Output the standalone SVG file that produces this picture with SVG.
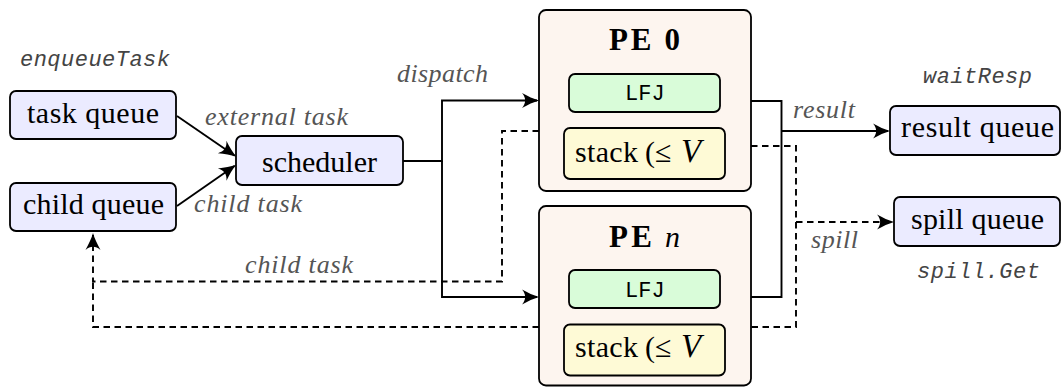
<svg xmlns="http://www.w3.org/2000/svg" width="1061" height="387" viewBox="0 0 1061 387">
  <style>
    .box { stroke: #000; stroke-width: 1.8; }
    .queue { fill: #ebebff; }
    .pe { fill: #fdf5ef; }
    .lfj { fill: #d9fcd9; }
    .stack { fill: #fefad6; }
    .txt { font-family: "Liberation Serif", "Times New Roman", serif; font-size: 30px; fill: #000; }
    .bold { font-weight: bold; font-size: 31px; }
    .it { font-style: italic; }
    .mono { font-family: "Liberation Mono", "Courier New", monospace; font-size: 22px; fill: #000; }
    .lbl { font-family: "Liberation Serif", "Times New Roman", serif; font-style: italic; font-size: 26px; fill: #555; }
    .api { font-family: "Liberation Mono", "Courier New", monospace; font-style: italic; font-size: 22px; fill: #444; }
    .wire { fill: none; stroke: #000; stroke-width: 1.9; }
    .dash { stroke-dasharray: 6.5 4.5; }
  </style>
  <defs>
    <!-- stealth-style arrow tip, drawn in user units -->
    <marker id="tip" markerUnits="userSpaceOnUse" viewBox="-18 -9 19 18" refX="-2" refY="0"
            markerWidth="19" markerHeight="18" orient="auto">
      <path d="M0,0 C-5.5,-1.6 -11,-4.2 -17,-7.5 C-12.8,-2.6 -12.8,2.6 -17,7.5 C-11,4.2 -5.5,1.6 0,0 Z" fill="#000"/>
    </marker>
  </defs>

  <!-- connectors -->
  <g id="connectors">
    <path class="wire" d="M177,116 L234.5,155.5" marker-end="url(#tip)"/>
    <path class="wire" d="M177,206 L234.5,166" marker-end="url(#tip)"/>
    <path class="wire" d="M403,161 H442 V100.5 H537" marker-end="url(#tip)"/>
    <path class="wire" d="M442,161 V297 H537" marker-end="url(#tip)"/>
    <path class="wire dash" d="M539,131 H502 V281.5 H93 V235" marker-end="url(#tip)"/>
    <path class="wire dash" d="M539,327 H93 V281.5"/>
    <path class="wire" d="M751,101 H781.5 V297 H751"/>
    <path class="wire" d="M781.5,131 H888" marker-end="url(#tip)"/>
    <path class="wire dash" d="M751,146 H796 V327 H751"/>
    <path class="wire dash" d="M796,222 H892" marker-end="url(#tip)"/>

    <text class="lbl" x="205" y="125" textLength="143">external task</text>
    <text class="lbl" x="194" y="212" textLength="108">child task</text>
    <text class="lbl" x="397" y="82" textLength="91">dispatch</text>
    <text class="lbl" x="245" y="273" textLength="108">child task</text>
    <text class="lbl" x="793" y="117.5" textLength="62">result</text>
    <text class="lbl" x="811" y="248" textLength="47">spill</text>
  </g>

  <!-- input queues -->
  <g id="task-queue">
    <text class="api" x="20" y="66" textLength="150">enqueueTask</text>
    <rect class="box queue" x="10" y="91" width="166" height="48" rx="6"/>
    <text class="txt" x="27" y="123" textLength="132">task queue</text>
  </g>
  <g id="child-queue">
    <rect class="box queue" x="10" y="183" width="166" height="48" rx="6"/>
    <text class="txt" x="23" y="214" textLength="141">child queue</text>
  </g>

  <g id="scheduler">
    <rect class="box queue" x="236" y="136" width="167" height="49" rx="6"/>
    <text class="txt" x="262" y="172" textLength="115">scheduler</text>
  </g>

  <!-- processing elements -->
  <g id="pe-0">
    <rect class="box pe" x="539" y="10" width="212" height="181" rx="7"/>
    <text class="txt bold" x="609" y="50" textLength="71">PE 0</text>
    <rect class="box lfj" x="569" y="74" width="151" height="38" rx="6"/>
    <text class="mono" x="625" y="100">LFJ</text>
    <rect class="box stack" x="564" y="128" width="161" height="51" rx="6"/>
    <text class="txt" y="162"><tspan x="575" textLength="63">stack</tspan><tspan x="645">(</tspan><tspan x="655">≤</tspan><tspan x="681" class="it" font-size="33">V</tspan></text>
  </g>
  <g id="pe-n">
    <rect class="box pe" x="539" y="206" width="212" height="179.5" rx="7"/>
    <text class="txt" y="247"><tspan x="609" class="bold" textLength="43">PE</tspan><tspan x="665" class="it">n</tspan></text>
    <rect class="box lfj" x="569" y="270" width="151" height="38" rx="6"/>
    <text class="mono" x="625" y="297">LFJ</text>
    <rect class="box stack" x="564" y="324.5" width="161" height="51" rx="6"/>
    <text class="txt" y="357"><tspan x="575" textLength="63">stack</tspan><tspan x="645">(</tspan><tspan x="655">≤</tspan><tspan x="681" class="it" font-size="33">V</tspan></text>
  </g>

  <!-- output queues -->
  <g id="result-queue">
    <text class="api" x="923" y="83" textLength="109">waitResp</text>
    <rect class="box queue" x="890" y="106" width="170" height="49" rx="6"/>
    <text class="txt" x="901" y="137" textLength="153">result queue</text>
  </g>
  <g id="spill-queue">
    <rect class="box queue" x="894" y="197" width="166" height="49" rx="6"/>
    <text class="txt" x="911" y="228.5" textLength="133">spill queue</text>
    <text class="api" x="917" y="278" textLength="123">spill.Get</text>
  </g>
</svg>
